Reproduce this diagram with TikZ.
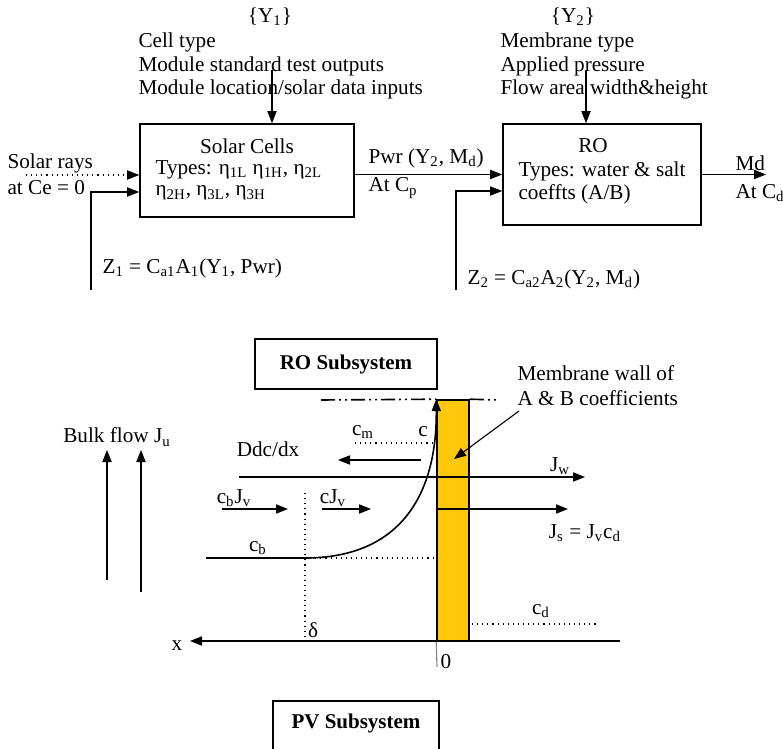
\documentclass[tikz,border=0pt]{standalone}
\usepackage{fontspec}
\setmainfont{Liberation Serif}
\usetikzlibrary{arrows.meta}
\usepackage{xcolor}
\definecolor{wallyellow}{RGB}{255,200,10}
\newcommand{\sbs}[1]{\textsubscript{#1}}

\begin{document}
\begin{tikzpicture}[x=0.5pt, y=-0.5pt, font=\fontsize{10.6}{12}\selectfont,
    line width=0.55pt,
    >={Triangle[length=6pt, width=4.6pt]},
    lbl/.style={inner sep=0pt, anchor=west},
    box/.style={draw, line width=0.8pt, inner sep=0pt},
    subbox/.style={box, font=\fontsize{10.5}{12}\selectfont\bfseries}]
\useasboundingbox (0,0) rectangle (783,749);
% top: solar cells block
\node (y1) at (270,17) {\{Y\sbs{1}\}};
\node[lbl] (celltype) at (138,42) {Cell type};
\node[lbl] (stdtest) at (138,66) {Module standard test outputs};
\node[lbl] (location) at (138,89) {Module location/solar data inputs};
\node[box, minimum width=107pt, minimum height=46.5pt] (solar) at (247,170.5) {};
\node (solarname) at (247,146) {Solar Cells};
\node[lbl] (solartypes) at (155,170) {Types: η\sbs{1L} η\sbs{1H}, η\sbs{2L}};
\node[lbl] (solartypes2) at (155,193) {η\sbs{2H}, η\sbs{3L}, η\sbs{3H}};
\coordinate (y1in) at (272,70);
\draw[->] (y1in) -- (y1in |- solar.north);
\node[lbl] (rays) at (7,163) {Solar rays};
\node[lbl] (rays2) at (7,188) {at Ce = 0};
\coordinate (raysin) at (26,175);
\draw[->, dotted] (raysin) -- (raysin -| solar.west);
\coordinate (z1foot) at (91,290);
\coordinate (z1turn) at (91,192);
\draw[->] (z1foot) -- (z1turn) -- (z1turn -| solar.west);
\node[lbl] (z1) at (102,268) {Z\sbs{1} = C\sbs{a1}A\sbs{1}(Y\sbs{1}, Pwr)};
% top: RO block
\node (y2) at (573,17) {\{Y\sbs{2}\}};
\node[lbl] (memtype) at (500,42) {Membrane type};
\node[lbl] (pressure) at (500,66) {Applied pressure};
\node[lbl] (flowarea) at (500,89) {Flow area width\&height};
\node[box, minimum width=99pt, minimum height=50.5pt] (ro) at (602,174.5) {};
\node (roname) at (593,146) {RO};
\node[lbl] (rotypes) at (518,171) {Types: water \& salt};
\node[lbl] (rotypes2) at (518,194) {coeffts (A/B)};
\coordinate (y2in) at (586,70);
\draw[->] (y2in) -- (y2in |- ro.north);
\draw[->] (solar.east |- ro.west) -- (ro.west);
\node[lbl] (pwr) at (368,158) {Pwr (Y\sbs{2}, M\sbs{d})};
\node[lbl] (pwr2) at (368,188) {At C\sbs{p}};
\coordinate (z2foot) at (456,290);
\coordinate (z2turn) at (456,191);
\draw[->] (z2foot) -- (z2turn) -- (z2turn -| ro.west);
\node[lbl] (z2) at (467,279) {Z\sbs{2} = C\sbs{a2}A\sbs{2}(Y\sbs{2}, M\sbs{d})};
\coordinate (mdout) at (766,174.5);
\draw[->] (ro.east) -- (mdout);
\node[lbl] (md) at (735,163) {Md};
\node[lbl] (md2) at (735,193) {At C\sbs{d}};
% bottom: membrane layer
\node[subbox, minimum width=91pt, minimum height=25pt] (rosub) at (346,364) {RO Subsystem};
\node[box, fill=wallyellow, minimum width=16pt, minimum height=120.5pt] (wall) at (453,520.5) {};
\draw[thick, dash pattern=on 7pt off 2pt on 1pt off 2pt on 1pt off 2pt] (321,400) -- (wall.north west);
\draw[thick, dash pattern=on 7pt off 2pt on 1pt off 2pt on 1pt off 2pt] (wall.north east) -- (499,400);
\node[lbl] (note) at (517,373) {Membrane wall of};
\node[lbl] (note2) at (517,398) {A \& B coefficients};
\coordinate (notefrom) at (519,411);
\coordinate (noteto) at (454,459);
\draw[->] (notefrom) -- (noteto);
\coordinate (delta) at (305,558);
\draw[->, thick] (delta) .. controls (400,558) and (437,495) .. (wall.north west);
\coordinate (cbstart) at (206,558);
\draw[thick] (cbstart) -- (delta);
\draw[dotted] (delta) -- (wall.west |- delta);
\node (cb) at (258,548) {c\sbs{b}};
\coordinate (deltatop) at (305,493);
\coordinate (deltafoot) at (305,641);
\draw[dotted] (deltatop) -- (deltafoot);
\node (deltalbl) at (313,630) {δ};
\coordinate (axisright) at (620,641);
\coordinate (axisleft) at (190,641);
\draw[->] (axisright) -- (axisleft);
\node (xlbl) at (177,646) {x};
\coordinate (zerotick) at (437,667);
\draw[gray] (wall.south west) -- (zerotick);
\node (zero) at (446,662) {0};
\coordinate (cdstart) at (472,624);
\coordinate (cdend) at (598,624);
\draw[dotted] (cdstart) -- (cdend);
\node (cd) at (541,611) {c\sbs{d}};
\node (bulk) at (117,437) {Bulk flow J\sbs{u}};
\coordinate (bulk1) at (107,580);
\coordinate (bulk2) at (141,592);
\draw[->] (bulk1) -- (107,450);
\draw[->] (bulk2) -- (141,450);
\node (ddc) at (268,449) {Ddc/dx};
\coordinate (ddcfrom) at (421,460);
\coordinate (ddcto) at (338,460);
\draw[->] (ddcfrom) -- (ddcto);
\node (cm) at (363,432) {c\sbs{m}};
\node (cwall) at (423,432) {c};
\coordinate (cmstart) at (355,443);
\draw[dotted] (cmstart) -- (wall.west |- cmstart);
\coordinate (jwstart) at (239,477);
\coordinate (jwend) at (585,477);
\draw[->] (jwstart) -- (jwend);
\node (jw) at (560,466) {J\sbs{w}};
\node (cbjv) at (234,498) {c\sbs{b}J\sbs{v}};
\coordinate (cbjvfrom) at (222,509);
\coordinate (cbjvto) at (288,509);
\draw[->] (cbjvfrom) -- (cbjvto);
\node (cjv) at (333,498) {cJ\sbs{v}};
\coordinate (cjvfrom) at (322,509);
\coordinate (cjvto) at (371,509);
\draw[->] (cjvfrom) -- (cjvto);
\coordinate (jsend) at (568,509);
\draw[->] (wall.west |- jsend) -- (jsend);
\node (js) at (585,533) {J\sbs{s} = J\sbs{v}c\sbs{d}};
% bottom: PV box, cut by the page edge
\draw[line width=0.8pt] (273,760) -- (273,701) -- (439,701) -- (439,760);
\node[font=\fontsize{10.5}{12}\selectfont\bfseries] (pvsub) at (356,723) {PV Subsystem};
\end{tikzpicture}
\end{document}
